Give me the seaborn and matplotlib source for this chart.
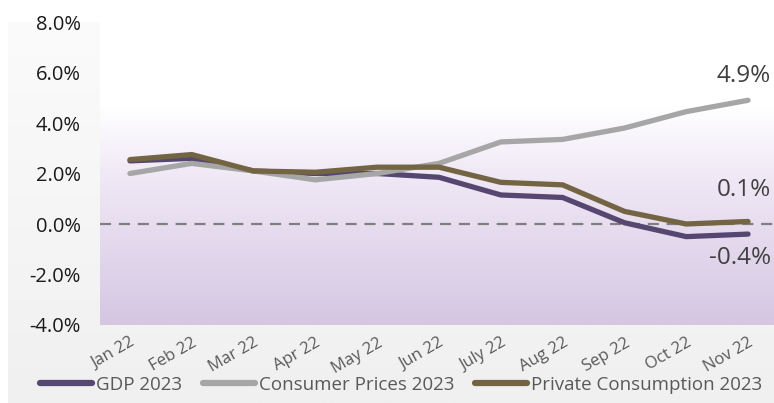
import numpy as np
import pandas as pd
import matplotlib
matplotlib.use("Agg")
import matplotlib.pyplot as plt
from matplotlib.colors import LinearSegmentedColormap
from matplotlib.lines import Line2D
import seaborn as sns

# values (in %)
months = ["Jan 22", "Feb 22", "Mar 22", "Apr 22", "May 22", "Jun 22",
          "July 22", "Aug 22", "Sep 22", "Oct 22", "Nov 22"]
gdp = [2.5, 2.6, 2.1, 2.0, 2.0, 1.85, 1.15, 1.05, 0.05, -0.5, -0.4]
consumer_prices = [2.0, 2.4, 2.1, 1.75, 2.0, 2.4, 3.25, 3.35, 3.8, 4.45, 4.9]
private_consumption = [2.55, 2.75, 2.1, 2.05, 2.25, 2.25, 1.65, 1.55, 0.5, 0.0, 0.1]
series_names = ["GDP 2023", "Consumer Prices 2023", "Private Consumption 2023"]
end_labels = ["-0.4%", "4.9%", "0.1%"]
colors = ["#554770", "#a6a6a6", "#736543"]
yticks = [-4, -2, 0, 2, 4, 6, 8]

df = pd.DataFrame({
    "x": list(range(len(months))) * 3,
    "value": gdp + consumer_prices + private_consumption,
    "series": np.repeat(series_names, len(months)),
})

sns.set_style("white")
plt.rcParams["font.family"] = ["Open Sans", "DejaVu Sans"]

fig = plt.figure(figsize=(7.74, 4.03), dpi=100)
fig.patch.set_facecolor("white")

# outer chart-area background (light grey gradient)
bg = fig.add_axes([8 / 774, 0, 1 - 8 / 774, 381 / 403], zorder=-10)
bg_cmap = LinearSegmentedColormap.from_list("bg", ["#fbfbfb", "#f0f0f0"])
bg.imshow(np.linspace(0, 1, 256).reshape(-1, 1), aspect="auto", cmap=bg_cmap,
          extent=[0, 1, 0, 1], origin="upper")
bg.axis("off")

ax = fig.add_axes([100 / 774, 78 / 403, 674 / 774, 303 / 403])
ax.set_xlim(-0.485, 10.42)
ax.set_ylim(-4, 8)

# plot-area gradient: white at top to lavender at bottom
pa_cmap = LinearSegmentedColormap.from_list(
    "pa", [(0, "#ffffff"), (0.28, "#ffffff"), (0.5, "#f0e9f6"), (1, "#d5c6e2")])
ax.imshow(np.linspace(0, 1, 256).reshape(-1, 1), aspect="auto", cmap=pa_cmap,
          extent=[-0.485, 10.42, -4, 8], origin="upper", zorder=0)

ax.axhline(0, color="#7f7f7f", lw=1.6, ls=(0, (5, 3.5)), zorder=1)

sns.lineplot(data=df, x="x", y="value", hue="series", palette=colors,
             hue_order=series_names, linewidth=3.8, ax=ax, legend=False,
             zorder=3)
for line in ax.lines:
    line.set_solid_capstyle("round")
    line.set_solid_joinstyle("miter")

# end-of-line value labels
last_vals = [gdp[-1], consumer_prices[-1], private_consumption[-1]]
offsets = [-0.95, 0.95, 1.25]
for val, lab, off in zip(last_vals, end_labels, offsets):
    ax.text(10.37, val + off, lab, ha="right", va="center",
            fontsize=17.5, color="#404040")

ax.set_xticks(range(len(months)))
ax.set_xticklabels(months, rotation=30, ha="right", rotation_mode="anchor",
                   fontsize=12, color="#595959")
ax.set_yticks(yticks)
ax.set_yticklabels([f"{v:.1f}%" for v in yticks], fontsize=14.5, color="#1a1a1a")
ax.tick_params(axis="x", length=0, pad=7)
ax.tick_params(axis="y", length=0, pad=14)
ax.set_xlabel("")
ax.set_ylabel("")
for s in ax.spines.values():
    s.set_visible(False)

handles = [Line2D([0], [0], color=c, lw=4.5, solid_capstyle="round") for c in colors]
leg = fig.legend(handles, series_names, loc="center", ncol=3,
                 bbox_to_anchor=(0.518, 0.045), frameon=False,
                 fontsize=13.5, handlelength=2.8, handletextpad=0.2,
                 columnspacing=1.1)
for t in leg.get_texts():
    t.set_color("#595959")

fig.savefig("out.png", dpi=100)
